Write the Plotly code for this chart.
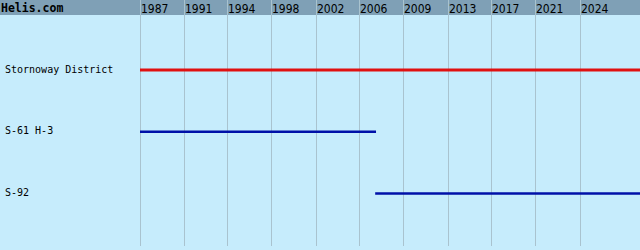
import plotly.graph_objects as go

# ---- data ----
rows = ["Stornoway District", "S-61 H-3", "S-92"]
row_start = [1987.5, 1987.5, 2007.1]
row_end = [2029.2, 2007.17, 2029.2]
row_colors = ["#e01010", "#0010a8", "#0010a8"]
row_widths = [3, 2.5, 2.5]

tick_years = [1987.5, 1991.17, 1994.83, 1998.5, 2002.17, 2005.83,
              2009.5, 2013.17, 2016.83, 2020.5, 2024.17]
tick_labels = ["1987", "1991", "1994", "1998", "2002", "2006",
               "2009", "2013", "2017", "2021", "2024"]

x_range = [1987.4, 2029.17]

W, H = 640, 250
BG = "#c6ecfc"
HEADER = "#7fa0b6"
PX_PER_YEAR = 12.0

fig = go.Figure()
for i, name in enumerate(rows):
    fig.add_trace(go.Scatter(
        x=[row_start[i], row_end[i]], y=[i, i], mode="lines",
        line=dict(color=row_colors[i], width=row_widths[i]),
        hoverinfo="skip", showlegend=False, cliponaxis=True))

# plot area spans px 0..246 (grid lines run through header too)
top_px, bot_px = 0, 246
r0, step = 70, 61.7
y_top = (top_px - r0) / step
y_bot = (bot_px - r0) / step
x_left_px = 140 - (1987.5 - x_range[0]) * PX_PER_YEAR

annotations = []
for i, name in enumerate(rows):
    annotations.append(dict(
        x=4 / W, xref="paper", y=i, yref="y", text=name, showarrow=False,
        xanchor="left", yanchor="middle", xshift=-1.5, yshift=1,
        font=dict(family="DejaVu Sans Mono", size=10, color="#000000")))
for tv, tl in zip(tick_years, tick_labels):
    annotations.append(dict(
        x=tv, xref="x", y=1 - 8.5 / H, yref="paper", text=tl, showarrow=False,
        xanchor="left", yanchor="middle", xshift=-1.5,
        font=dict(family="Liberation Sans Narrow, DejaVu Sans Condensed, DejaVu Sans",
                  size=12, color="#000000")))
annotations.append(dict(
    x=0, xref="paper", y=1 - 8 / H, yref="paper", text="<b>Helis.com</b>",
    showarrow=False, xanchor="left", yanchor="middle", xshift=-1,
    font=dict(family="DejaVu Sans Mono", size=11.5, color="#000000")))

fig.update_layout(
    width=W, height=H, margin=dict(l=0, r=0, t=0, b=0),
    paper_bgcolor=BG, plot_bgcolor="rgba(0,0,0,0)",
    xaxis=dict(domain=[x_left_px / W, 1], range=x_range, tickvals=tick_years,
               showticklabels=False, showgrid=True, gridcolor="#a9c3cf",
               gridwidth=1, zeroline=False, showline=False, ticks=""),
    yaxis=dict(domain=[1 - bot_px / H, 1 - top_px / H], range=[y_bot, y_top],
               showticklabels=False, showgrid=False, zeroline=False,
               showline=False, ticks=""),
    shapes=[dict(type="rect", xref="paper", yref="paper", x0=0, x1=1,
                 y0=1 - 15 / H, y1=1, fillcolor=HEADER, line=dict(width=0),
                 layer="below")],
    annotations=annotations,
)

fig.write_html("out.html")
